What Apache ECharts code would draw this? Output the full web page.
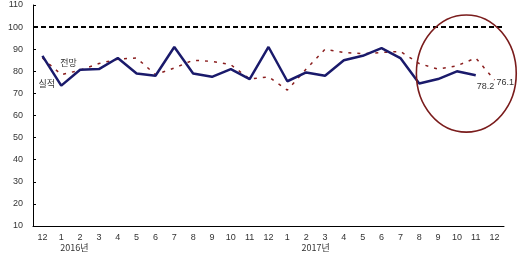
<!DOCTYPE html>
<html><head><meta charset="utf-8">
<script src="https://cdn.jsdelivr.net/npm/echarts@6/dist/echarts.min.js"></script>
<style>html,body{margin:0;padding:0;background:#fff}#c{width:524px;height:257px}</style>
</head><body><div id="c"></div>
<script>
const categories = ['12','1','2','3','4','5','6','7','8','9','10','11','12','1','2','3','4','5','6','7','8','9','10','11','12'];
const actual = [87, 73.5, 80.7, 81, 86, 79, 78, 91, 79, 77.5, 81, 76.5, 91, 75.5, 79.5, 78, 85, 87, 90.5, 86, 74.5, 76.5, 80, 78.2, null];
const forecast = [86, 78.5, 80.5, 83.5, 85.5, 86, 78.5, 81.5, 85, 84.5, 83, 76.5, 77.5, 71.5, 81, 90, 88.5, 88, 88.5, 89, 83.5, 81, 82.5, 86, 76.1];
const yTicks = {min: 10, max: 110, interval: 10};
const baseline = 100;
const yearLabels = [{text: '2016년', idx: 1}, {text: '2017년', idx: 13.8}];

const FONT = '"Liberation Sans", Arial, sans-serif';
const KFONT = '"Noto Sans CJK KR", sans-serif';
const chart = echarts.init(document.getElementById('c'));
chart.setOption({
  animation: false,
  grid: {left: 33, right: 20, top: 5, bottom: 31},
  xAxis: {
    type: 'category', data: categories, boundaryGap: true,
    axisLine: {lineStyle: {color: '#000', width: 1}},
    axisTick: {inside: true, length: 3, interval: 0, lineStyle: {color: '#000'}},
    axisLabel: {interval: 0, color: '#333', fontSize: 9, fontFamily: FONT, margin: 7}
  },
  yAxis: {
    type: 'value', min: yTicks.min, max: yTicks.max, interval: yTicks.interval,
    splitLine: {show: false},
    axisLine: {show: true, lineStyle: {color: '#000', width: 1}},
    axisTick: {show: true, inside: true, length: 3, lineStyle: {color: '#000'}},
    axisLabel: {color: '#333', fontSize: 9, fontFamily: FONT, margin: 10}
  },
  series: [
    {
      name: '전망', type: 'line', data: forecast,
      symbol: 'none', z: 2,
      lineStyle: {color: '#8b1f1f', width: 1.5, type: [3, 6]},
      endLabel: {show: true, formatter: p => String(p.value), distance: 2, offset: [0, 3], color: '#333', fontSize: 9, fontFamily: FONT},
      markLine: {
        silent: true, symbol: 'none', label: {show: false},
        lineStyle: {color: '#000', width: 2, type: [5, 3]},
        data: [{yAxis: baseline}]
      }
    },
    {
      name: '실적', type: 'line', data: actual,
      symbol: 'none', z: 3, connectNulls: false,
      lineStyle: {color: '#1a1a6b', width: 2.5},
      endLabel: {show: true, formatter: p => String(p.value), distance: 0, offset: [1, 11], color: '#333', fontSize: 9, fontFamily: FONT}
    }
  ]
});

const p0 = chart.convertToPixel({gridIndex: 0}, [0, yTicks.min]);
const p1 = chart.convertToPixel({gridIndex: 0}, [1, yTicks.min]);
const step = p1[0] - p0[0];
const xAt = i => p0[0] + i * step;
const yAt = v => chart.convertToPixel({yAxisIndex: 0}, v);
const cx = xAt(22.5), cy = yAt(79);
const rxp = 2.65 * step;
const ryp = cy - yAt(79 + 26.5);
const yAxisBottom = yAt(yTicks.min);
const graphics = [
  {type: 'ellipse', shape: {cx: cx, cy: cy, rx: rxp, ry: ryp},
   style: {fill: 'none', stroke: '#7a1c1c', lineWidth: 1.6}, z: 10},
];
yearLabels.forEach(y => {
  graphics.push({type: 'text', x: xAt(y.idx) - 1, y: yAxisBottom + 17, style: {text: y.text, fill: '#333', font: '9px ' + KFONT}});
});
graphics.push({type: 'text', x: xAt(1) - 1, y: yAt(forecast[1]) - 17, style: {text: '전망', fill: '#333', font: '9px ' + KFONT}});
graphics.push({type: 'text', x: xAt(0) - 4, y: yAt(actual[1]) - 7, style: {text: '실적', fill: '#333', font: '9px ' + KFONT}});
chart.setOption({graphic: graphics});
</script></body></html>
